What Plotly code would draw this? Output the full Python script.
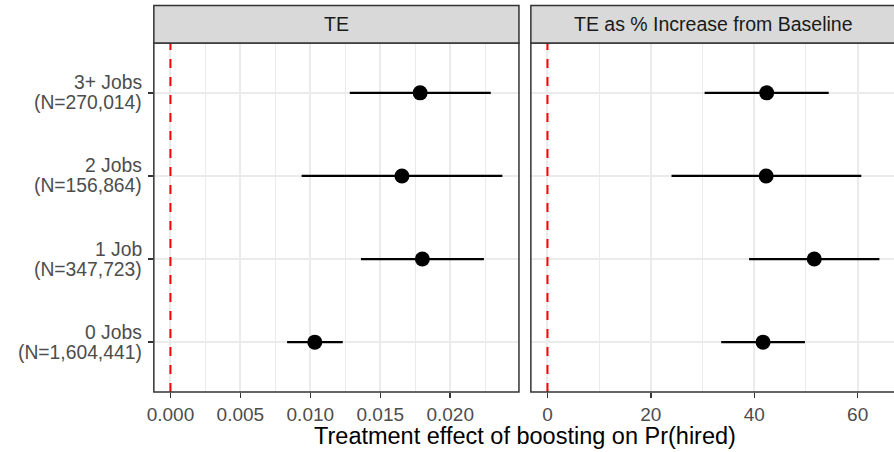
import plotly.graph_objects as go

# ---- data ----
categories = ["0 Jobs", "1 Job", "2 Jobs", "3+ Jobs"]
n_labels = ["(N=1,604,441)", "(N=347,723)", "(N=156,864)", "(N=270,014)"]

te_est = [0.01032, 0.01801, 0.01655, 0.01785]
te_low = [0.00834, 0.01362, 0.00938, 0.01282]
te_high = [0.01232, 0.02241, 0.02373, 0.02290]

pct_est = [41.7, 51.6, 42.3, 42.4]
pct_low = [33.6, 39.0, 24.0, 30.4]
pct_high = [49.8, 64.2, 60.7, 54.4]

facet_titles = ["TE", "TE as % Increase from Baseline"]
x_title = "Treatment effect of boosting on Pr(hired)"

# ---- layout geometry (pixels) ----
W, H = 894, 452
L1, R1 = 148, 516
L2, R2 = 528, 896
PT, PB = 43, 392
ST = 5.5

def px(x):
    return x / W

def py(y):
    return 1 - y / H

def expand(lo, hi):
    d = hi - lo
    return lo - 0.05 * d, hi + 0.05 * d

r1 = expand(0, max(te_high))
r2 = expand(0, max(pct_high))
# right panel runs past the window edge: clip range to visible part
per2 = (R2 - L2) / (r2[1] - r2[0])
r2_vis = (r2[0], r2[0] + (W - L2) / per2)

ypos = list(range(1, len(categories) + 1))

fig = go.Figure()

for xs, lo, hi, xa in [(te_est, te_low, te_high, "x"), (pct_est, pct_low, pct_high, "x2")]:
    fig.add_trace(go.Scatter(
        x=xs, y=ypos, mode="markers", xaxis=xa, yaxis="y" if xa == "x" else "y2",
        marker=dict(color="black", size=15),
        error_x=dict(type="data", array=[h - e for h, e in zip(hi, xs)],
                     arrayminus=[e - l for e, l in zip(xs, lo)],
                     color="black", thickness=2.2, width=0),
        showlegend=False, hoverinfo="skip",
    ))

grid = "#EBEBEB"
FONT = "Liberation Sans, Arial, sans-serif"
tickfont = dict(family=FONT, size=19, color="#4D4D4D")

fig.update_layout(
    width=W, height=H,
    margin=dict(l=0, r=0, t=0, b=0),
    paper_bgcolor="white", plot_bgcolor="white",
    font=dict(family=FONT),
    xaxis=dict(domain=[px(L1), px(R1)], range=list(r1), tick0=0, dtick=0.005,
               tickformat=".3f", showgrid=True, gridcolor=grid, gridwidth=2,
               minor=dict(dtick=0.0025, tick0=0, showgrid=True, gridcolor=grid, gridwidth=1),
               zeroline=False, showline=False, ticks="outside", ticklen=5,
               tickwidth=1.5, tickcolor="#333333", tickfont=tickfont, anchor="y"),
    xaxis2=dict(domain=[px(L2), 1.0], range=list(r2_vis), tick0=0, dtick=20,
                showgrid=True, gridcolor=grid, gridwidth=2,
                minor=dict(dtick=10, tick0=0, showgrid=True, gridcolor=grid, gridwidth=1),
                zeroline=False, showline=False, ticks="outside", ticklen=5,
                tickwidth=1.5, tickcolor="#333333", tickfont=tickfont, anchor="y2"),
    yaxis=dict(domain=[py(PB), py(PT)], range=[0.4, len(categories) + 0.6],
               tickvals=ypos, showticklabels=False, showgrid=True, gridcolor=grid,
               gridwidth=2, zeroline=False, showline=False, ticks="outside",
               ticklen=5, tickwidth=1.5, tickcolor="#333333", anchor="x"),
    yaxis2=dict(domain=[py(PB), py(PT)], range=[0.4, len(categories) + 0.6],
                tickvals=ypos, showticklabels=False, showgrid=True, gridcolor=grid,
                gridwidth=2, zeroline=False, showline=False, ticks="", anchor="x2",
                matches="y"),
)

shapes = []
# red dashed reference lines at 0
for xr, yr in [("x", "y domain"), ("x2", "y2 domain")]:
    shapes.append(dict(type="line", xref=xr, yref=yr, x0=0, x1=0, y0=0, y1=1,
                       line=dict(color="red", width=2, dash="9px,9px"), layer="above"))
# panel borders and strips
for l, r in [(L1, R1), (L2, R2)]:
    shapes.append(dict(type="rect", xref="paper", yref="paper",
                       x0=px(l), x1=px(r), y0=py(PB), y1=py(PT),
                       line=dict(color="#333333", width=1.5), fillcolor="rgba(0,0,0,0)",
                       layer="above"))
    shapes.append(dict(type="rect", xref="paper", yref="paper",
                       x0=px(l), x1=px(r), y0=py(PT), y1=py(ST),
                       line=dict(color="#333333", width=1.5), fillcolor="#D9D9D9",
                       layer="above"))
fig.update_layout(shapes=shapes)

ann = []
for (l, r), t in zip([(L1, R1), (L2, R2)], facet_titles):
    ann.append(dict(text=t, xref="paper", yref="paper", x=px((l + r) / 2),
                    y=py((ST + PT) / 2), showarrow=False, xanchor="center",
                    yanchor="middle",
                    font=dict(size=19.5, color="#1A1A1A")))
for y, c, n in zip(ypos, categories, n_labels):
    ann.append(dict(text=c, xref="paper", yref="y", x=px(138), y=y, yshift=10,
                    xanchor="right", yanchor="middle", showarrow=False,
                    font=dict(size=19.3, color="#4D4D4D")))
    ann.append(dict(text=n, xref="paper", yref="y", x=px(138), y=y, yshift=-10,
                    xanchor="right", yanchor="middle", showarrow=False,
                    font=dict(size=19.3, color="#4D4D4D")))
ann.append(dict(text=x_title, xref="paper", yref="paper", x=px((L1 + R2) / 2),
                y=py(436), xanchor="center", yanchor="middle", showarrow=False,
                font=dict(size=23.5, color="black")))
fig.update_layout(annotations=ann)

fig.write_html(
    "out.html",
    config={"displayModeBar": False, "staticPlot": True},
    post_script="document.body.style.margin='0';document.body.style.padding='0';"
                "document.documentElement.style.overflow='hidden';",
)
